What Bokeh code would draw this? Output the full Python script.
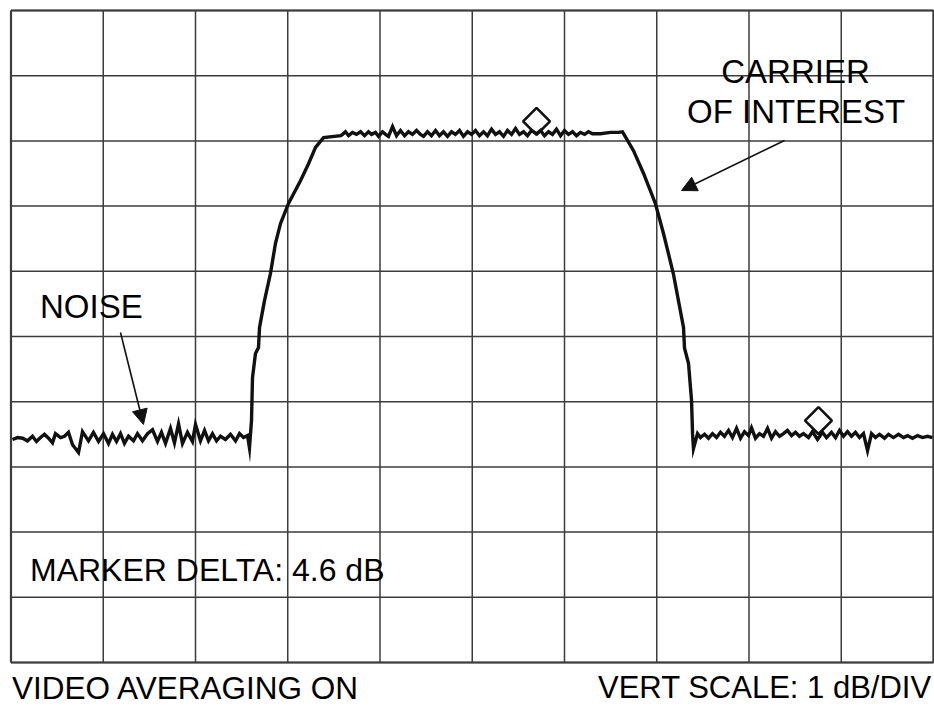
from bokeh.plotting import figure
from bokeh.models import Range1d, Label, Arrow, NormalHead
from bokeh.embed import file_html
from bokeh.resources import INLINE
import numpy as np

# ---- data (x in divisions, y in dB, 1 dB/div) ----
GRID_DIVS = [0, 1, 2, 3, 4, 5, 6, 7, 8, 9, 10]

noise_left_x = [0.016, 0.070, 0.125, 0.179, 0.233, 0.276, 0.320, 0.363, 0.407, 0.450, 0.482, 0.537,
                0.580, 0.623, 0.667, 0.732, 0.775, 0.840, 0.894, 0.949, 1.003, 1.057, 1.100, 1.144,
                1.187, 1.230, 1.274, 1.328, 1.371, 1.425, 1.480, 1.534, 1.588, 1.631, 1.675, 1.729,
                1.772, 1.816, 1.859, 1.913, 1.967, 2.000, 2.054, 2.098, 2.141, 2.184, 2.228, 2.271,
                2.325, 2.379, 2.434, 2.477, 2.520, 2.564, 2.585]
noise_left_y = [3.42, 3.45, 3.44, 3.40, 3.47, 3.39, 3.45, 3.50, 3.44, 3.37, 3.51, 3.45,
                3.47, 3.53, 3.34, 3.22, 3.54, 3.40, 3.53, 3.39, 3.51, 3.36, 3.50, 3.39,
                3.51, 3.36, 3.47, 3.40, 3.51, 3.40, 3.51, 3.57, 3.39, 3.53, 3.36, 3.59,
                3.37, 3.66, 3.36, 3.53, 3.39, 3.65, 3.40, 3.56, 3.40, 3.51, 3.40, 3.47,
                3.42, 3.50, 3.40, 3.51, 3.45, 3.48, 3.29]

rise_x = [2.607, 2.618, 2.650, 2.683, 2.694, 2.748, 2.813, 2.867, 2.921, 3.008, 3.138, 3.225, 3.301, 3.388, 3.575]
rise_y = [3.71, 4.37, 4.74, 4.83, 5.14, 5.55, 5.97, 6.43, 6.73, 7.04, 7.39, 7.65, 7.90, 8.05, 8.08]

plateau_x = [3.594, 3.626, 3.659, 3.702, 3.745, 3.789, 3.832, 3.875, 3.908, 3.951, 3.984, 4.027,
             4.060, 4.092, 4.136, 4.179, 4.222, 4.266, 4.309, 4.352, 4.396, 4.439, 4.472, 4.515,
             4.558, 4.602, 4.645, 4.688, 4.732, 4.775, 4.818, 4.862, 4.905, 4.949, 4.992, 5.035,
             5.079, 5.122, 5.165, 5.209, 5.252, 5.295, 5.339, 5.382, 5.426, 5.469, 5.512, 5.556,
             5.599, 5.642, 5.697, 5.740, 5.783, 5.827, 5.870, 5.913, 5.957, 6.000, 6.043, 6.087,
             6.130, 6.173, 6.217, 6.260, 6.304, 6.390, 6.499, 6.585, 6.629]
plateau_y = [8.10, 8.14, 8.08, 8.13, 8.10, 8.14, 8.08, 8.14, 8.10, 8.13, 8.07, 8.14,
             8.10, 8.07, 8.22, 8.08, 8.16, 8.08, 8.14, 8.10, 8.16, 8.10, 8.07, 8.14,
             8.08, 8.16, 8.08, 8.14, 8.07, 8.14, 8.10, 8.16, 8.07, 8.14, 8.10, 8.16,
             8.08, 8.14, 8.08, 8.18, 8.10, 8.14, 8.07, 8.16, 8.10, 8.19, 8.10, 8.14,
             8.08, 8.16, 8.11, 8.16, 8.08, 8.14, 8.10, 8.18, 8.08, 8.16, 8.10, 8.14,
             8.08, 8.13, 8.10, 8.14, 8.11, 8.11, 8.13, 8.13, 8.14]

fall_x = [6.748, 6.857, 6.985, 7.073, 7.179, 7.290, 7.301, 7.344, 7.377, 7.388, 7.398]
fall_y = [7.85, 7.50, 7.04, 6.58, 5.97, 5.14, 4.82, 4.59, 4.02, 3.51, 3.28]

noise_right_x = [7.442, 7.474, 7.518, 7.561, 7.604, 7.648, 7.691, 7.734, 7.778, 7.821, 7.865, 7.908,
                 7.951, 7.995, 8.027, 8.070, 8.114, 8.157, 8.201, 8.244, 8.287, 8.331, 8.374, 8.417,
                 8.461, 8.504, 8.547, 8.591, 8.645, 8.688, 8.743, 8.797, 8.840, 8.894, 8.938, 8.981,
                 9.024, 9.068, 9.111, 9.154, 9.198, 9.241, 9.285, 9.328, 9.371, 9.415, 9.469, 9.512,
                 9.566, 9.621, 9.675, 9.718, 9.772, 9.827, 9.881, 9.934, 9.989]
noise_right_y = [3.51, 3.45, 3.50, 3.44, 3.51, 3.45, 3.53, 3.47, 3.56, 3.45, 3.59, 3.44,
                 3.54, 3.48, 3.60, 3.44, 3.51, 3.47, 3.59, 3.44, 3.54, 3.47, 3.51, 3.56,
                 3.48, 3.53, 3.47, 3.51, 3.45, 3.54, 3.42, 3.53, 3.45, 3.53, 3.45, 3.56,
                 3.47, 3.54, 3.47, 3.53, 3.45, 3.51, 3.25, 3.51, 3.45, 3.50, 3.44, 3.50,
                 3.45, 3.50, 3.45, 3.48, 3.44, 3.48, 3.45, 3.47, 3.45]

marker_x = [5.697, 8.753]
marker_y = [8.30, 3.71]

trace_x = noise_left_x + rise_x + plateau_x + fall_x + noise_right_x
trace_y = noise_left_y + rise_y + plateau_y + fall_y + noise_right_y

# ---- figure ----
W, H = 934, 709
p = figure(width=W, height=H, output_backend="svg", toolbar_location=None,
           x_axis_location=None, y_axis_location=None,
           x_range=Range1d(-0.1138, 10.0108), y_range=Range1d(-0.7209, 10.1534),
           min_border=0, outline_line_color=None, background_fill_color="white",
           border_fill_color="white")
p.grid.visible = False

GRID_COLOR = "#3c3c3c"
p.segment(x0=GRID_DIVS, y0=[0] * 11, x1=GRID_DIVS, y1=[10] * 11, line_color=GRID_COLOR, line_width=1.5)
p.segment(x0=[0] * 11, y0=GRID_DIVS, x1=[10] * 11, y1=GRID_DIVS, line_color=GRID_COLOR, line_width=1.5)
p.segment(x0=[0, 10, 0, 0], y0=[0, 0, 0, 10], x1=[0, 10, 10, 10], y1=[10, 10, 0, 10],
          line_color=GRID_COLOR, line_width=2.2)

# trace
p.line(trace_x, trace_y, line_color="#111111", line_width=3.4, line_join="miter")

# markers (diamonds)
p.scatter(marker_x, marker_y, marker="square", size=19, angle=np.pi / 4,
          fill_color="white", fill_alpha=0.0, line_color="#111111", line_width=2.6)

FONT = "Liberation Sans"

def lab(x, y, t, align="left", size="32px"):
    p.add_layout(Label(x=x, y=y, text=t, text_font=FONT, text_font_size=size,
                       text_color="#000000", text_align=align, text_baseline="alphabetic"))

lab(8.504, 9.071, "CARRIER", align="center", size="33px")
lab(8.510, 8.457, "OF INTEREST", align="center", size="33px")
lab(0.314, 5.466, "NOISE", size="33px")
lab(0.206, 1.417, "MARKER DELTA: 4.6 dB", size="32px")
lab(0.011, -0.393, "VIDEO AVERAGING ON", size="31.5px")
lab(9.98, -0.377, "VERT SCALE: 1 dB/DIV", align="right", size="31px")

# arrows
p.add_layout(Arrow(end=NormalHead(size=15, fill_color="#111111", line_color="#111111", line_width=1),
                   x_start=8.385, y_start=8.006, x_end=7.268, y_end=7.239,
                   line_color="#111111", line_width=1.6))
p.add_layout(Arrow(end=NormalHead(size=15, fill_color="#111111", line_color="#111111", line_width=1),
                   x_start=1.187, y_start=5.061, x_end=1.436, y_end=3.65,
                   line_color="#111111", line_width=1.6))

open("out.html", "w").write(file_html(p, INLINE))
